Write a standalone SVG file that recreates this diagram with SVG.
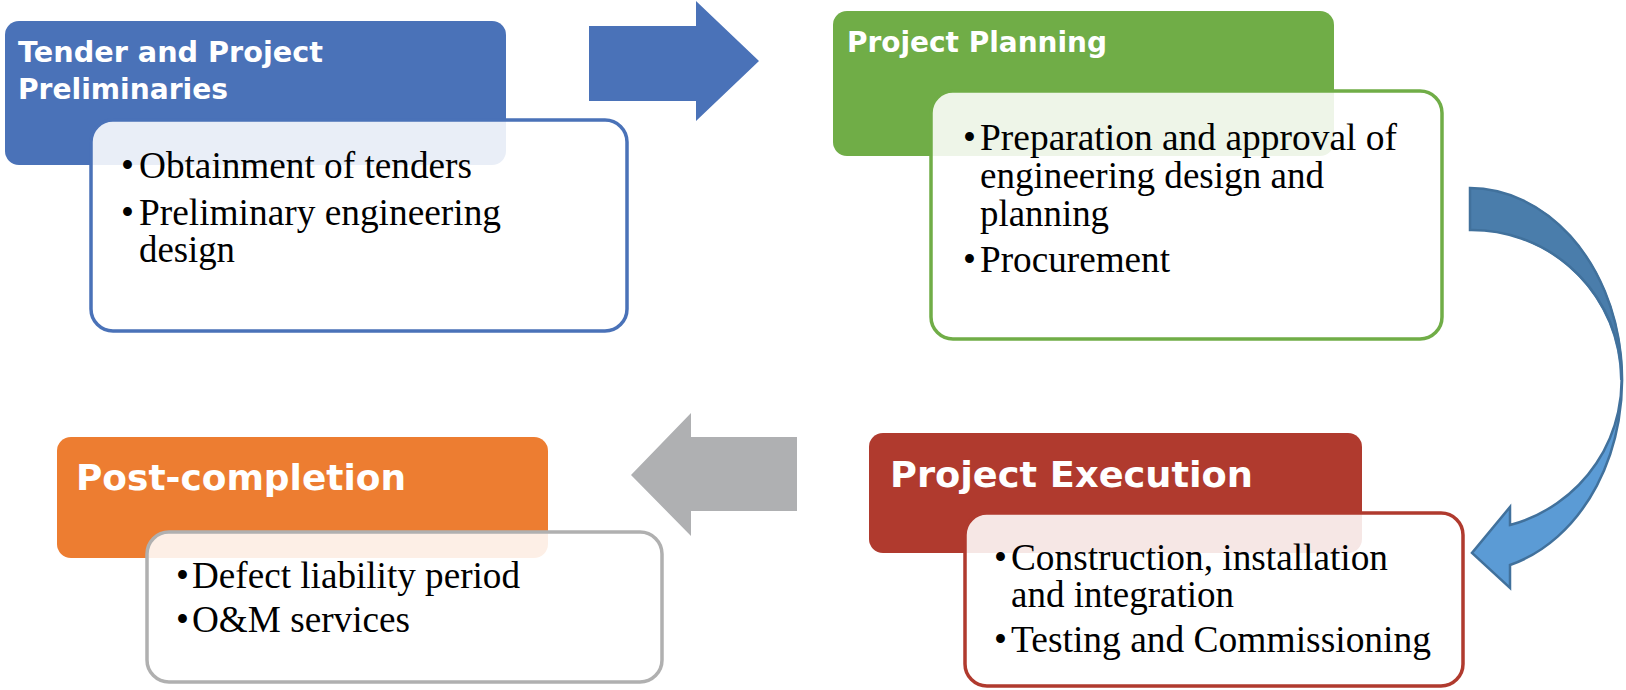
<svg xmlns="http://www.w3.org/2000/svg" width="1626" height="690" viewBox="0 0 1626 690">
<style>
.hdr{font-family:"DejaVu Sans","Liberation Sans",sans-serif;font-weight:bold;fill:#FFFFFF}
.bul{font-family:"Liberation Serif","Times New Roman",serif;font-size:37px;fill:#000000}
.box{fill:#FFFFFF;fill-opacity:0.88;stroke-width:3.5}
</style>
<rect width="1626" height="690" fill="#FFFFFF"/>
<g id="connectors">
<polygon points="589,26 696,26 696,1 759,61 696,121 696,101 589,101" fill="#4A72B8"/>
<polygon points="797,437 691,437 691,413 631,475 691,536 691,511 797,511" fill="#AFB0B2"/>
<g id="curved-arrow">
<path d="M1470,188 A153,192 0 0 1 1510,565 L1510,588 L1472,553 L1510,507 L1510,525 A150,150 0 0 0 1470,230 Z" fill="#5B9BD5"/>
<path d="M1470,188 A153,192 0 0 1 1623,380 L1620,380 A150,150 0 0 0 1470,230 Z" fill="#4A7DAB"/>
<path d="M1470,188 A153,192 0 0 1 1510,565 L1510,588 L1472,553 L1510,507 L1510,525 A150,150 0 0 0 1470,230 Z" fill="none" stroke="#41719C" stroke-width="2.5" stroke-linejoin="miter"/>
</g>
</g>
<g id="node-tender">
<rect x="5" y="21" width="501" height="144" rx="14" fill="#4A72B8"/>
<text class="hdr" font-size="28" x="18" y="62" textLength="305" lengthAdjust="spacingAndGlyphs">Tender and Project</text>
<text class="hdr" font-size="28" x="18" y="99" textLength="210" lengthAdjust="spacingAndGlyphs">Preliminaries</text>
<rect class="box" x="91" y="120" width="536" height="211" rx="22" stroke="#4A72B8"/>
<text class="bul" x="121" y="178">•</text>
<text class="bul" x="139" y="178" textLength="333" lengthAdjust="spacingAndGlyphs">Obtainment of tenders</text>
<text class="bul" x="121" y="225">•</text>
<text class="bul" x="139" y="225" textLength="362" lengthAdjust="spacingAndGlyphs">Preliminary engineering</text>
<text class="bul" x="139" y="262" textLength="96" lengthAdjust="spacingAndGlyphs">design</text>
</g>
<g id="node-planning">
<rect x="833" y="11" width="501" height="145" rx="14" fill="#70AD47"/>
<text class="hdr" font-size="28" x="847" y="52" textLength="260" lengthAdjust="spacingAndGlyphs">Project Planning</text>
<rect class="box" x="931" y="91" width="511" height="248" rx="22" stroke="#70AD47"/>
<text class="bul" x="963" y="150">•</text>
<text class="bul" x="980" y="150" textLength="417" lengthAdjust="spacingAndGlyphs">Preparation and approval of</text>
<text class="bul" x="980" y="188" textLength="344" lengthAdjust="spacingAndGlyphs">engineering design and</text>
<text class="bul" x="980" y="226" textLength="129" lengthAdjust="spacingAndGlyphs">planning</text>
<text class="bul" x="963" y="272">•</text>
<text class="bul" x="980" y="272" textLength="190" lengthAdjust="spacingAndGlyphs">Procurement</text>
</g>
<g id="node-execution">
<rect x="869" y="433" width="493" height="120" rx="14" fill="#B03A2E"/>
<text class="hdr" font-size="36" x="890" y="487" textLength="363" lengthAdjust="spacingAndGlyphs">Project Execution</text>
<rect class="box" x="965" y="513" width="498" height="173" rx="22" stroke="#B03A2E"/>
<text class="bul" x="994" y="570">•</text>
<text class="bul" x="1011" y="570" textLength="377" lengthAdjust="spacingAndGlyphs">Construction, installation</text>
<text class="bul" x="1011" y="607" textLength="223" lengthAdjust="spacingAndGlyphs">and integration</text>
<text class="bul" x="994" y="652">•</text>
<text class="bul" x="1011" y="652" textLength="420" lengthAdjust="spacingAndGlyphs">Testing and Commissioning</text>
</g>
<g id="node-post">
<rect x="57" y="437" width="491" height="121" rx="14" fill="#ED7D31"/>
<text class="hdr" font-size="36" x="76" y="490" textLength="330" lengthAdjust="spacingAndGlyphs">Post-completion</text>
<rect class="box" x="147" y="532" width="515" height="150" rx="22" stroke="#B0B0B0"/>
<text class="bul" x="176" y="588">•</text>
<text class="bul" x="192" y="588" textLength="328" lengthAdjust="spacingAndGlyphs">Defect liability period</text>
<text class="bul" x="176" y="632">•</text>
<text class="bul" x="192" y="632" textLength="218" lengthAdjust="spacingAndGlyphs">O&amp;M services</text>
</g>
</svg>
